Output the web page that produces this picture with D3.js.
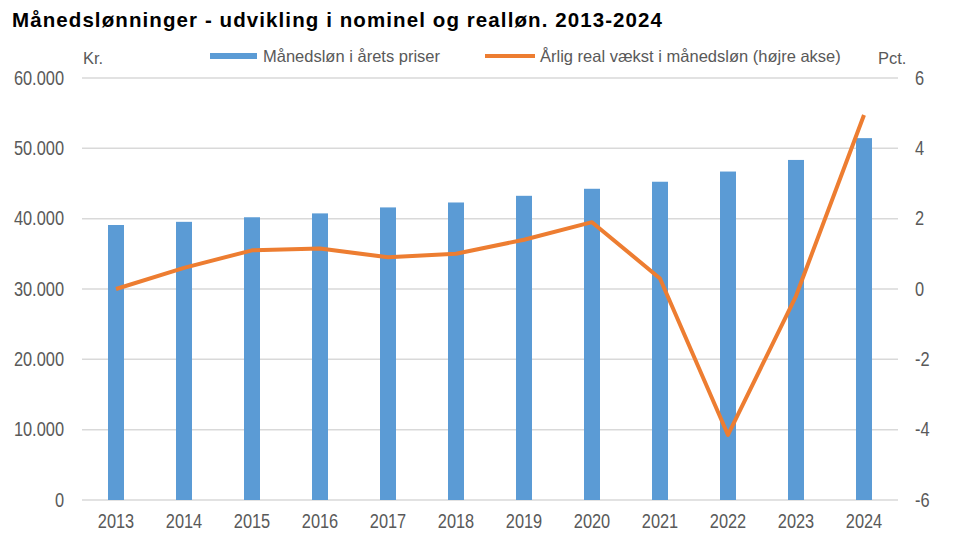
<!DOCTYPE html>
<html>
<head>
<meta charset="utf-8">
<script src="https://cdn.jsdelivr.net/npm/d3@7"></script>
<style>
  body { margin: 0; background: #fff; }
  text { font-family: "Liberation Sans", Arial, sans-serif; fill: #595959; }
  .title { font-weight: bold; fill: #000; }
</style>
</head>
<body>
<svg id="chart" width="960" height="538"></svg>
<script>
// Data
const years = ['2013', '2014', '2015', '2016', '2017', '2018', '2019', '2020', '2021', '2022', '2023', '2024'];
const wages = [39100, 39550, 40200, 40750, 41600, 42300, 43250, 44250, 45250, 46700, 48350, 51450];
const realGrowth = [0.0, 0.6, 1.1, 1.15, 0.9, 1.0, 1.4, 1.9, 0.3, -4.15, -0.2, 4.95];
const leftTicks = [0, 10000, 20000, 30000, 40000, 50000, 60000];
const rightTicks = [-6, -4, -2, 0, 2, 4, 6];

const margin = { top: 78, right: 62, bottom: 38, left: 82 };
const width = 960 - margin.left - margin.right;
const height = 538 - margin.top - margin.bottom;

const svg = d3.select('#chart');
const g = svg.append('g').attr('transform', `translate(${margin.left},${margin.top})`);

const x = d3.scaleBand().domain(years).range([0, width]);
const yL = d3.scaleLinear().domain([0, 60000]).range([height, 0]);
const yR = d3.scaleLinear().domain([-6, 6]).range([height, 0]);

// Danish number format: 60.000
const fmt = d3.formatLocale({ decimal: ',', thousands: '.', grouping: [3], currency: ['', ''] }).format(',d');

// squeeze text horizontally (original uses a narrow font)
function condense(sel, k) {
  sel.each(function() {
    const w = this.getComputedTextLength();
    d3.select(this).attr('textLength', w * k).attr('lengthAdjust', 'spacingAndGlyphs');
  });
}

// gridlines
g.selectAll('.grid')
  .data(leftTicks)
  .enter().append('line')
  .attr('x1', 0).attr('x2', width)
  .attr('y1', d => yL(d)).attr('y2', d => yL(d))
  .attr('stroke', '#d9d9d9').attr('stroke-width', 1.5);

// bars
const barW = 16;
g.selectAll('.bar')
  .data(wages)
  .enter().append('rect')
  .attr('x', (d, i) => x(years[i]) + x.bandwidth() / 2 - barW / 2)
  .attr('width', barW)
  .attr('y', d => yL(d))
  .attr('height', d => yL(0) - yL(d))
  .attr('fill', '#5b9bd5');

// line
const line = d3.line()
  .x((d, i) => x(years[i]) + x.bandwidth() / 2)
  .y(d => yR(d));
g.append('path')
  .datum(realGrowth)
  .attr('d', line)
  .attr('fill', 'none')
  .attr('stroke', '#ed7d31')
  .attr('stroke-width', 4)
  .attr('stroke-linejoin', 'round');

// left axis
const axL = g.append('g')
  .call(d3.axisLeft(yL).tickValues(leftTicks).tickFormat(fmt).tickSize(0).tickPadding(18));
axL.select('.domain').remove();

// right axis (plain hyphen minus like the original)
const axR = g.append('g')
  .attr('transform', `translate(${width},0)`)
  .call(d3.axisRight(yR).tickValues(rightTicks).tickFormat(d => String(d)).tickSize(0).tickPadding(17));
axR.select('.domain').remove();

// bottom axis
const axB = g.append('g')
  .attr('transform', `translate(0,${height})`)
  .call(d3.axisBottom(x).tickSize(0).tickPadding(14));
axB.select('.domain').remove();

svg.selectAll('.tick text')
  .attr('fill', '#595959')
  .attr('font-size', 19.5)
  .style('font-family', '"Liberation Sans", Arial, sans-serif')
  .call(condense, 0.84);

// title
svg.append('text')
  .attr('class', 'title')
  .attr('x', 12).attr('y', 27)
  .attr('font-size', 20.5)
  .attr('textLength', 650)
  .attr('lengthAdjust', 'spacing')
  .text('Månedslønninger - udvikling i nominel og realløn. 2013-2024');

// axis units + legend
const labels = svg.append('g').attr('font-size', 16.5);
labels.append('text').attr('x', 83).attr('y', 64).text('Kr.');
labels.append('text').attr('x', 878).attr('y', 64).text('Pct.');

svg.append('rect').attr('x', 210).attr('y', 53).attr('width', 47).attr('height', 6).attr('fill', '#5b9bd5');
labels.append('text').attr('x', 263).attr('y', 62).text('Månedsløn i årets priser');
svg.append('line').attr('x1', 485).attr('x2', 535).attr('y1', 56).attr('y2', 56)
  .attr('stroke', '#ed7d31').attr('stroke-width', 4);
labels.append('text').attr('x', 540).attr('y', 62).text('Årlig real vækst i månedsløn (højre akse)');
</script>
</body>
</html>
